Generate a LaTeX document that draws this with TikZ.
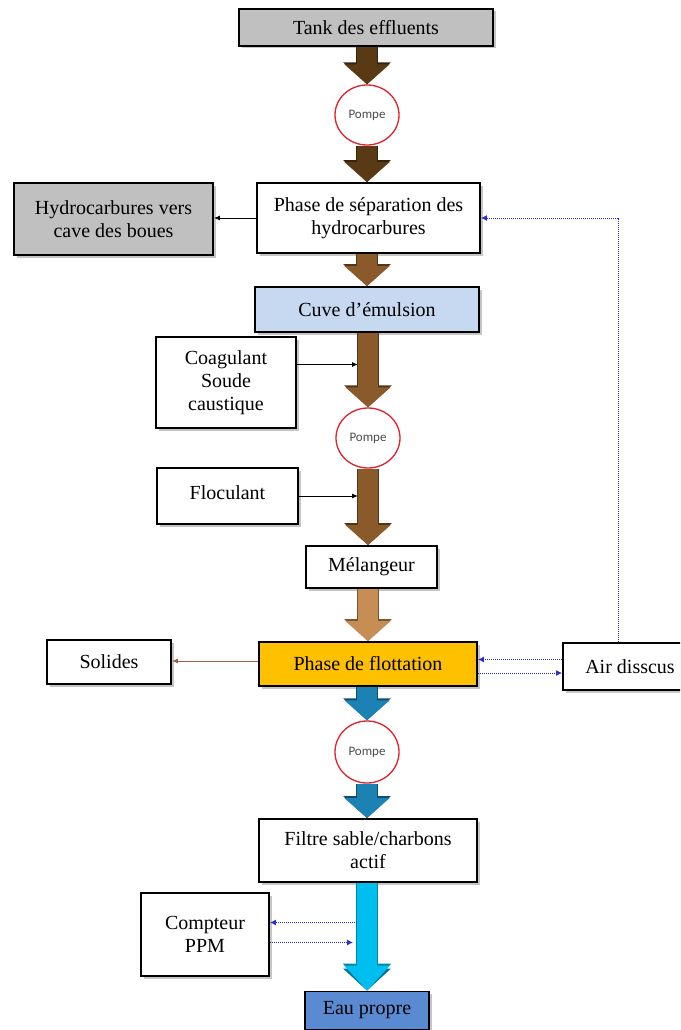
\documentclass[tikz,border=0pt]{standalone}
\usepackage{fontspec}
\setmainfont{Liberation Serif}
\newfontfamily\pumpfont{Carlito}
\usetikzlibrary{arrows.meta,shapes.geometric,shadows}
\definecolor{darkbrown}{HTML}{5A3A14}
\definecolor{midbrown}{HTML}{8B5A2B}
\definecolor{tanbrown}{HTML}{C68E55}
\definecolor{tealflow}{HTML}{1C82B4}
\definecolor{cyanflow}{HTML}{00BFF0}
\definecolor{pumpred}{HTML}{E0202A}
\definecolor{dotblue}{HTML}{2E2ED6}
\definecolor{grayfill}{HTML}{C0C0C0}
\definecolor{cuvefill}{HTML}{C6D9F1}
\definecolor{flotfill}{HTML}{FFC000}
\definecolor{eaufill}{HTML}{5A8AD2}
\definecolor{solbrown}{HTML}{A0623A}
\begin{document}
\begin{tikzpicture}[x=1pt,y=-1pt,
  box/.style={draw=black, line width=1.8pt, fill=white, inner sep=2pt, align=center,
    font=\fontsize{20}{23}\selectfont,
    drop shadow={shadow xshift=2.5pt, shadow yshift=-2.5pt, fill=black!45}},
  pump/.style={ellipse, draw=pumpred, line width=1.3pt, fill=white, minimum width=64pt,
    minimum height=60pt, inner sep=0pt, font=\pumpfont\fontsize{13}{15}\selectfont, text=black!70},
  flow/.style={draw=#1, line width=20pt, -{Triangle[width=44pt,length=20pt]},
    preaction={draw=#1!60!black, line width=21.6pt, -{Triangle[width=46.5pt,length=22pt]}}},
  thinarrow/.style={draw=black, line width=1pt, -{Latex[length=6pt,width=5pt]}},
  sidearrow/.style={draw=solbrown, line width=1pt, -{Latex[length=6pt,width=5pt]}},
  dotarrow/.style={draw=dotblue, line width=1pt, dash pattern=on 1pt off 1pt, -{Latex[length=6pt,width=6pt]}},
]
\useasboundingbox (0,0) rectangle (680,1030);
\clip (0,0) rectangle (680,1030);

% boxes
\node[box, fill=grayfill, line width=2.2pt, minimum width=254pt, minimum height=37pt] (tank) at (366,27.5) {Tank des effluents};
\node[pump] (p1) at (367,115) {Pompe};
\node[box, minimum width=223pt, minimum height=70pt] (sep) at (368.5,218) {Phase de séparation des\\hydrocarbures};
\node[box, fill=grayfill, minimum width=199pt, minimum height=72pt] (hyd) at (113.5,219) {Hydrocarbures vers\\cave des boues};
\node[box, fill=cuvefill, minimum width=224pt, minimum height=45pt] (cuve) at (367,309.5) {Cuve d'émulsion};
\node[box, minimum width=140pt, minimum height=91pt] (coag) at (226,382.5) {Coagulant\\Soude\\caustique};
\node[pump] (p2) at (368,438) {Pompe};
\node[box, minimum width=141pt, minimum height=56pt] (floc) at (227.5,496) {\raisebox{6pt}{Floculant}};
\node[box, minimum width=131pt, minimum height=42pt] (mel) at (371.5,567) {Mélangeur};
\node[box, fill=flotfill, minimum width=218pt, minimum height=44pt] (flot) at (368,664) {Phase de flottation};
\node[box, minimum width=124pt, minimum height=44pt] (sol) at (109,662) {Solides};
\node[box, minimum width=174pt, minimum height=47pt] (air) at (650,666.5) {\hspace*{-40pt}Air disscus};
\node[pump, minimum height=62pt] (p3) at (367,752) {Pompe};
\node[box, minimum width=218pt, minimum height=63pt] (filt) at (368,850.5) {Filtre sable/charbons\\actif};
\node[box, minimum width=128pt, minimum height=83pt] (cpt) at (205,934.5) {Compteur\\PPM};
\node[box, fill=eaufill, minimum width=124pt, minimum height=38pt] (eau) at (367,1010.5) {Eau propre};

% main flow arrows (kept vertical on the column x = 367)
\draw[flow=darkbrown] (tank.south -| p1) -- (p1.north);
\draw[flow=darkbrown] (p1.south) -- (sep.north -| p1);
\draw[flow=midbrown] (sep.south -| p1) -- (cuve.north -| p1);
\draw[flow=midbrown] (cuve.south -| p2) -- (p2.north);
\draw[flow=midbrown] (p2.south) -- (mel.north -| p2);
\draw[flow=tanbrown] (mel.south -| p2) -- (flot.north -| p2);
\draw[flow=tealflow] (flot.south -| p3) -- (p3.north);
\draw[flow=tealflow] (p3.south) -- (filt.north -| p3);
\draw[flow=cyanflow, -{Triangle[width=44pt,length=25pt]},
  preaction={draw=cyanflow!70!black, line width=21.6pt, -{Triangle[width=46.5pt,length=27pt]}}]
  (filt.south -| p3) -- (eau.north -| p3);

% side connectors
\coordinate (shA) at ([xshift=-10pt]p2.north);
\coordinate (shB) at ([xshift=-10pt]p3.south);
\coordinate (shC) at ([xshift=-14pt]p3.south);
\draw[thinarrow] (sep.west) -- (sep.west -| hyd.east);
\draw[thinarrow] ([yshift=18pt]coag.east) -- ([yshift=18pt]coag.east -| shA);
\draw[thinarrow] (floc.east) -- (floc.east -| shA);
\draw[sidearrow] ([yshift=3pt]flot.west) -- ([yshift=3pt]flot.west -| sol.east);
\draw[dotarrow] ([yshift=7pt]air.west) -- ([yshift=7pt]air.west -| flot.east);
\draw[dotarrow] ([yshift=-9pt]flot.east) -- ([yshift=-9pt]flot.east -| air.west);
\draw[dotarrow] ([xshift=56pt]air.north west) |- (sep.east);
\draw[dotarrow] ([yshift=12pt]cpt.east -| shB) -- ([yshift=12pt]cpt.east);
\draw[dotarrow] ([yshift=-8pt]cpt.east) -- ([yshift=-8pt]cpt.east -| shC);
\end{tikzpicture}
\end{document}
